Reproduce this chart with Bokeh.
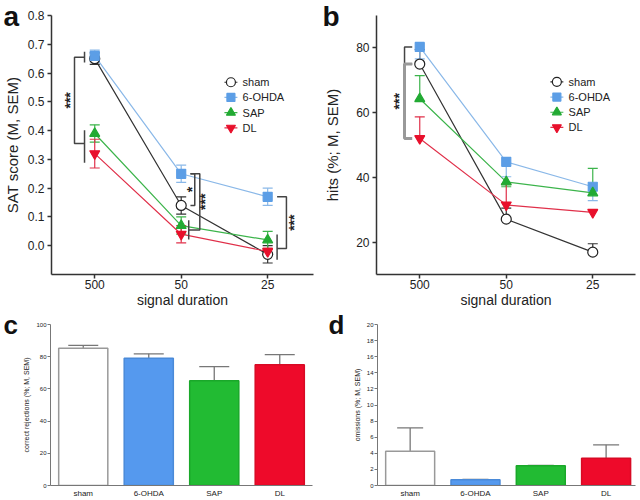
import math
from bokeh.plotting import figure
from bokeh.layouts import column, row
from bokeh.models import FixedTicker, PrintfTickFormatter, ColumnDataSource
from bokeh.embed import file_html
from bokeh.resources import INLINE
from bokeh.core.properties import value

FONT = "Liberation Sans"

# ---------------- data ----------------
durations = ["500", "50", "25"]
groups = ["sham", "6-OHDA", "SAP", "DL"]

# panel a: SAT score (mean, SEM)
sat_sham = [0.65, 0.14, -0.03]
sat_ohda = [0.66, 0.25, 0.17]
sat_sap = [0.39, 0.07, 0.02]
sat_dl = [0.32, 0.04, -0.02]
sat_sem_sham = [0.02, 0.03, 0.03]
sat_sem_ohda = [0.02, 0.03, 0.03]
sat_sem_sap = [0.03, 0.03, 0.03]
sat_sem_dl = [0.05, 0.03, 0.012]

# panel b: hits (mean, one-sided SEM up / down)
hits_sham = [75.0, 27.1, 16.9]
hits_ohda = [80.3, 44.8, 37.1]
hits_sap = [64.3, 38.6, 35.2]
hits_dl = [52.0, 31.5, 29.2]
hits_up_sham = [4.5, 3.4, 2.6]
hits_up_ohda = [0.0, 0.0, 0.0]
hits_up_sap = [7.1, 0.0, 7.6]
hits_up_dl = [6.7, 6.5, 0.0]
hits_dn_sham = [0.0, 0.0, 0.0]
hits_dn_ohda = [3.7, 4.6, 4.3]
hits_dn_sap = [0.0, 1.5, 0.0]
hits_dn_dl = [0.0, 0.0, 0.0]

# panel c: correct rejections, panel d: omissions
cr_mean = [85.2, 79.0, 65.0, 75.0]
cr_sem = [1.8, 2.8, 8.8, 6.3]
om_mean = [4.25, 0.7, 2.45, 3.4]
om_sem = [2.9, 0.05, 0.05, 1.65]

line_colors = ["#333333", "#8ab8e8", "#3cb44b", "#e0304a"]
mark_fill = ["white", "#5c9ee6", "#22aa33", "#e8102c"]
mark_line = ["#222222", "#5c9ee6", "#22aa33", "#e8102c"]
markers = ["circle", "square", "triangle", "inverted_triangle"]
mark_size = [10, 9, 10, 10]
bar_fill = ["white", "#5599ee", "#22bb33", "#ee0a2a"]
bar_line = ["#999999", "#4a8ad8", "#1aa82a", "#d80a24"]

xs3 = list(range(len(durations)))
xs4 = list(range(len(groups)))


def style(p, tick_size, axis_color, axis_width):
    p.xgrid.visible = False
    p.ygrid.visible = False
    p.outline_line_color = None
    p.background_fill_color = "white"
    p.border_fill_color = "white"
    for ax in p.axis:
        ax.axis_line_color = axis_color
        ax.axis_line_width = axis_width
        ax.major_tick_line_color = axis_color
        ax.major_tick_line_width = axis_width
        ax.major_tick_in = 0
        ax.minor_tick_line_color = None
        ax.major_label_text_font = FONT
        ax.major_label_text_font_size = tick_size
        ax.major_label_text_color = "#222222"
        ax.axis_label_text_font = FONT
        ax.axis_label_text_font_style = "normal"
        ax.axis_label_text_color = "#222222"


def letter(p, txt, offset, standoff, size):
    t = p.title
    t.text = txt
    t.text_font = FONT
    t.text_font_size = size
    t.text_font_style = "bold"
    t.text_color = "#111111"
    t.align = "left"
    t.offset = offset
    t.standoff = standoff
    t.vertical_align = "bottom"


def bracket(p, x_in, x_out, y1, y2, color="#444444", width=1.5):
    p.line([x_in, x_out, x_out, x_in], [y1, y1, y2, y2], line_color=color, line_width=width)


def gbar(p, x, vals, sems, shrink=0.75, color="#444444"):
    lo = min(v - s for v, s in zip(vals, sems))
    hi = max(v + s for v, s in zip(vals, sems))
    c = (lo + hi) / 2
    h = (hi - lo) / 2 * shrink
    p.line([x, x], [c - h, c + h], line_color=color, line_width=1.5)


def stars(p, x, y, txt, size="14px"):
    p.text(x=[x], y=[y], text=[txt], angle=math.pi / 2, text_font=value(FONT),
           text_font_size=size, text_font_style="bold", text_align="center",
           text_baseline="middle", text_color="#222222")


def manual_legend(p, x0, x1, xt, y0, dy):
    for i, g in enumerate(groups):
        yy = y0 - i * dy
        p.line([x0, x1], [yy, yy], line_color=line_colors[i], line_width=1.2)
        p.scatter([(x0 + x1) / 2], [yy], marker=markers[i], size=mark_size[i] - 1,
                  fill_color=mark_fill[i], line_color=mark_line[i], line_width=1.2)
        p.text(x=[xt], y=[yy], text=[g], text_font=value(FONT), text_font_size="11px",
               text_align="left", text_baseline="middle", text_color="#222222")


def line_axes(p, ylabel, ylabel_standoff):
    p.xaxis.ticker = FixedTicker(ticks=xs3)
    p.xaxis.major_label_overrides = {i: d for i, d in enumerate(durations)}
    p.xaxis.axis_label = "signal duration"
    p.yaxis.axis_label = ylabel
    p.xaxis.axis_label_text_font_size = "14px"
    p.yaxis.axis_label_text_font_size = "15px"
    p.xaxis.major_tick_out = 4
    p.yaxis.major_tick_out = 4
    p.xaxis.major_label_standoff = 1
    p.xaxis.axis_label_standoff = 0
    p.yaxis.major_label_standoff = 3
    p.yaxis.axis_label_standoff = ylabel_standoff


TOP_H = 310
BOT_H = 190

# ---------------- panel a ----------------
pa = figure(width=320, height=TOP_H, x_range=(-0.5, 2.53), y_range=(-0.1, 0.8),
            min_border_left=51, min_border_right=7, min_border_top=15, min_border_bottom=35,
            toolbar_location=None, output_backend="svg")
style(pa, "12px", "#333333", 1.5)
line_axes(pa, "SAT score (M, SEM)", 4)
pa.yaxis.ticker = FixedTicker(ticks=[0.0, 0.1, 0.2, 0.3, 0.4, 0.5, 0.6, 0.7, 0.8])
pa.yaxis.formatter = PrintfTickFormatter(format="%.1f")

sat_means = [sat_sham, sat_ohda, sat_sap, sat_dl]
sat_sems = [sat_sem_sham, sat_sem_ohda, sat_sem_sap, sat_sem_dl]
for i in range(4):
    pa.line(xs3, sat_means[i], line_color=line_colors[i], line_width=1.2)
for i in range(4):
    lo = [m - s for m, s in zip(sat_means[i], sat_sems[i])]
    hi = [m + s for m, s in zip(sat_means[i], sat_sems[i])]
    pa.segment(x0=xs3, y0=lo, x1=xs3, y1=hi, line_color=line_colors[i], line_width=1.2)
    pa.scatter(xs3 + xs3, lo + hi, marker="dash", size=10, line_color=line_colors[i], line_width=1.2)
for i in range(4):
    pa.scatter(xs3, sat_means[i], marker=markers[i], size=mark_size[i],
               fill_color=mark_fill[i], line_color=mark_line[i], line_width=1.2)

# significance brackets (a)
top0 = (sat_sham[0] + sat_ohda[0]) / 2
bot0 = (sat_sap[0] + sat_dl[0]) / 2
bracket(pa, -0.118, -0.234, top0, bot0)
gbar(pa, -0.118, [sat_sham[0], sat_ohda[0]], [sat_sem_sham[0], sat_sem_ohda[0]])
gbar(pa, -0.118, [sat_sap[0], sat_dl[0]], [sat_sem_sap[0], sat_sem_dl[0]])
stars(pa, -0.285, (top0 + bot0) / 2, "***")

bot1 = (sat_sap[1] + sat_dl[1]) / 2
bracket(pa, 1.107, 1.157, sat_ohda[1], sat_sham[1])
stars(pa, 1.128, (sat_ohda[1] + sat_sham[1]) / 2, "*")
pa.line([1.107, 1.215, 1.215, 1.087], [sat_ohda[1], sat_ohda[1], bot1, bot1],
        line_color="#444444", line_width=1.5)
gbar(pa, 1.087, [sat_sap[1], sat_dl[1]], [sat_sem_sap[1], sat_sem_dl[1]])
stars(pa, 1.275, (sat_ohda[1] + bot1) / 2, "***")

bot2 = (sat_sham[2] + sat_sap[2] + sat_dl[2]) / 3
bracket(pa, 2.109, 2.217, sat_ohda[2], bot2)
gbar(pa, 2.109, [sat_sham[2], sat_sap[2], sat_dl[2]],
     [sat_sem_sham[2], sat_sem_sap[2], sat_sem_dl[2]], shrink=0.8)
stars(pa, 2.305, (sat_ohda[2] + bot2) / 2, "***")

manual_legend(pa, 1.50, 1.65, 1.71, 0.568, 0.0528)
letter(pa, "a", -48, -32, "28px")

# ---------------- panel b ----------------
pb = figure(width=320, height=TOP_H, x_range=(-0.5, 2.494), y_range=(10, 90),
            min_border_left=56, min_border_right=5, min_border_top=15, min_border_bottom=35,
            toolbar_location=None, output_backend="svg")
style(pb, "12px", "#333333", 1.5)
line_axes(pb, "hits (%; M, SEM)", 12)
pb.yaxis.ticker = FixedTicker(ticks=[20, 40, 60, 80])

hits_means = [hits_sham, hits_ohda, hits_sap, hits_dl]
hits_up = [hits_up_sham, hits_up_ohda, hits_up_sap, hits_up_dl]
hits_dn = [hits_dn_sham, hits_dn_ohda, hits_dn_sap, hits_dn_dl]
for i in range(4):
    pb.line(xs3, hits_means[i], line_color=line_colors[i], line_width=1.2)
for i in range(4):
    lo = [m - d for m, d in zip(hits_means[i], hits_dn[i])]
    hi = [m + u for m, u in zip(hits_means[i], hits_up[i])]
    pb.segment(x0=xs3, y0=lo, x1=xs3, y1=hi, line_color=line_colors[i], line_width=1.2)
    cx = [x for x, u in zip(xs3, hits_up[i]) if u > 0] + [x for x, d in zip(xs3, hits_dn[i]) if d > 0]
    cy = [h for h, u in zip(hi, hits_up[i]) if u > 0] + [l for l, d in zip(lo, hits_dn[i]) if d > 0]
    pb.scatter(cx, cy, marker="dash", size=10, line_color=line_colors[i], line_width=1.2)
for i in range(4):
    pb.scatter(xs3, hits_means[i], marker=markers[i], size=mark_size[i],
               fill_color=mark_fill[i], line_color=mark_line[i], line_width=1.2)

bracket(pb, -0.087, -0.176, hits_ohda[0], hits_sham[0], color="#444444", width=1.5)
bracket(pb, -0.087, -0.176, hits_sham[0], hits_dl[0], color="#999999", width=3)
stars(pb, -0.245, (hits_sham[0] + hits_dl[0]) / 2, "***")

manual_legend(pb, 1.51, 1.66, 1.72, 69.5, 4.69)
letter(pb, "b", -54, -32, "28px")


# ---------------- panels c, d ----------------
def bar_panel(means, sems, yr, ticks, ylabel, border_left, border_right, xr_end, cap):
    p = figure(width=320, height=BOT_H, x_range=(-0.5, xr_end), y_range=yr,
               min_border_left=border_left, min_border_right=border_right,
               min_border_top=14, min_border_bottom=13,
               toolbar_location=None, output_backend="svg")
    style(p, "6px", "#777777", 1)
    p.xaxis.major_label_text_font_size = "8px"
    p.xaxis.ticker = FixedTicker(ticks=xs4)
    p.xaxis.major_label_overrides = {i: g for i, g in enumerate(groups)}
    p.xaxis.major_tick_out = 0
    p.xaxis.major_label_standoff = 3
    p.yaxis.ticker = FixedTicker(ticks=ticks)
    p.yaxis.major_tick_out = 3
    p.yaxis.major_label_standoff = 1
    p.yaxis.axis_label = ylabel
    p.yaxis.axis_label_text_font_size = "7px"
    p.yaxis.axis_label_standoff = 3
    src = ColumnDataSource(dict(x=xs4, top=means, fill=bar_fill, line=bar_line))
    hi = [m + s for m, s in zip(means, sems)]
    p.segment(x0=xs4, y0=means, x1=xs4, y1=hi, line_color="#777777", line_width=1.3)
    p.scatter(xs4, hi, marker="dash", size=cap, line_color="#777777", line_width=1.3)
    p.vbar(x="x", top="top", width=0.75, bottom=0, fill_color="fill", line_color="line",
           line_width=1.5, source=src)
    return p


pc = bar_panel(cr_mean, cr_sem, (0, 100), [0, 20, 40, 60, 80, 100],
               "correct rejections (%; M, SEM)", 50, 8, 3.5, 30)
letter(pc, "c", -47, -31, "26px")

pd = bar_panel(om_mean, om_sem, (0, 20), list(range(0, 21, 2)),
               "omissions (%; M, SEM)", 57, 5, 3.45, 26)
letter(pd, "d", -49, -31, "26px")

layout = column(row(pa, pb), row(pc, pd))
open("out.html", "w").write(file_html(layout, INLINE))
